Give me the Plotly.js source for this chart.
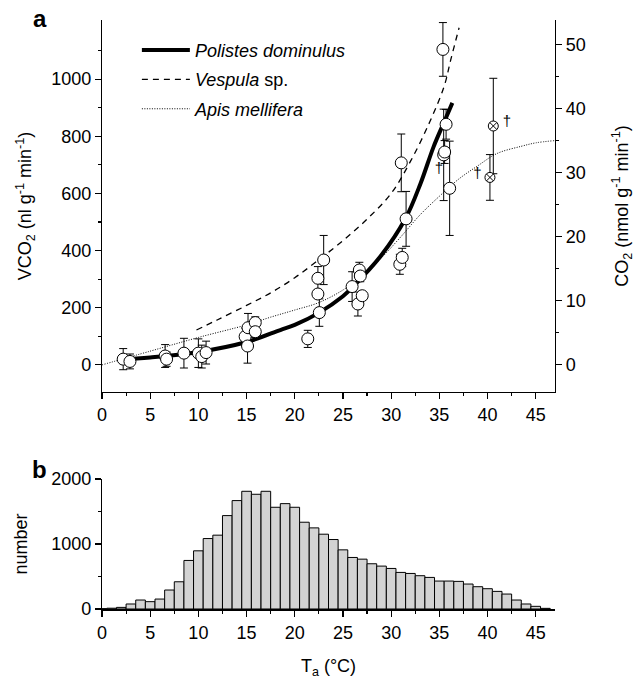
<!DOCTYPE html>
<html><head><meta charset="utf-8">
<script src="https://cdn.plot.ly/plotly-3.0.1.min.js"></script>
<style>body{margin:0;background:#fff}#chart{width:641px;height:685px}</style>
</head><body><div id="chart"></div>
<script>
// ---- Panel a: measured points (open circles) ----
const ptT   = [2.2, 2.9, 6.55, 6.7, 8.5, 10.0, 10.35, 10.8, 14.85, 15.1, 15.15, 15.9, 15.9, 21.35, 22.4, 22.4, 22.55, 23.0, 25.95, 26.55, 26.7, 26.8, 27.0, 30.9, 31.15, 31.05, 31.55, 35.37, 35.7, 35.45, 35.55, 36.07];
const ptV   = [20, 12, 31, 20, 41, 41, 29, 43, 99, 66, 130, 148, 116, 91, 303, 248, 183, 367, 274, 213, 332, 311, 242, 352, 376, 707, 511, 1104, 842, 735, 745, 618];
const ptErr = [37, 26, 40, 25, 52, 50, 40, 40, 30, 60, 50, 20, 20, 30, 41, 15, 48, 86, 52, 42, 27, 20, 15, 35, 32, 101, 96, 94, 52, 160, 40, 165];
// crossed circles (dead animals)
const xT   = [40.6, 40.25];
const xV   = [836, 656];
const xErr = [167, 80];
// dagger marks
const dagT = [42.0, 38.95, 34.95];
const dagV = [850, 668, 683];
// fitted curves
const polT = [1.8, 5, 10, 15, 18.5, 20, 22.5, 25, 26, 28.9, 31.5, 33.05, 34.4, 35.5, 36.35];
const polV = [18, 26, 45, 80, 122, 140, 182, 240, 272, 380, 513, 635, 763, 850, 917];
const vesT = [9.8, 12, 15, 17.5, 20, 22.5, 25, 27.5, 30, 32, 34, 35.5, 36.2, 37.05];
const vesV = [122, 158, 208, 252, 305, 368, 435, 510, 600, 712, 850, 975, 1070, 1180];
const apiT = [0, 5, 10, 15, 17.5, 20, 22.5, 25, 27, 29, 31, 33, 35, 37, 39, 41, 43.5, 45, 47];
const apiV = [0, 48, 96, 140, 167, 192, 218, 262, 312, 375, 448, 525, 590, 650, 697, 740, 765, 777, 785];
// axis ticks
const vTicks = [0, 200, 400, 600, 800, 1000];
const vMinor = [-100, 100, 300, 500, 700, 900, 1100];
// ---- Panel b: histogram of ambient temperature ----
const binT = [0,1,2,3,4,5,6,7,8,9,10,11,12,13,14,15,16,17,18,19,20,21,22,23,24,25,26,27,28,29,30,31,32,33,34,35,36,37,38,39,40,41,42,43,44,45,46];
const binN = [5,12,25,77,138,113,153,292,419,747,895,1084,1136,1437,1668,1811,1765,1811,1565,1621,1565,1335,1248,1151,1069,910,793,767,696,660,624,563,547,512,486,430,430,425,384,343,312,271,230,138,77,41,10];

const FONT = 'Liberation Sans, Arial, sans-serif';
const traces = [
  {x: polT, y: polV, mode: 'lines', line: {color: '#000', width: 4, shape: 'spline'}, name: '<i>Polistes dominulus</i>', legendgroup: 'p', xaxis: 'x', yaxis: 'y'},
  {x: vesT, y: vesV, mode: 'lines', line: {color: '#000', width: 1.3, dash: '6px,5px', shape: 'spline'}, name: '<i>Vespula</i> sp.', legendgroup: 'v', xaxis: 'x', yaxis: 'y'},
  {x: apiT, y: apiV, mode: 'lines', line: {color: '#000', width: 1, dash: '1px,1.5px', shape: 'spline'}, name: '<i>Apis mellifera</i>', legendgroup: 'a', xaxis: 'x', yaxis: 'y'},
  {x: ptT, y: ptV, mode: 'markers', showlegend: false, xaxis: 'x', yaxis: 'y',
   marker: {symbol: 'circle', size: 12, color: '#fff', line: {color: '#000', width: 1}},
   error_y: {type: 'data', array: ptErr, visible: true, color: '#000', thickness: 1, width: 4}},
  {x: xT, y: xV, mode: 'markers', showlegend: false, xaxis: 'x', yaxis: 'y',
   marker: {symbol: 'circle-x', size: 10, color: '#fff', line: {color: '#000', width: 1}},
   error_y: {type: 'data', array: xErr, visible: true, color: '#000', thickness: 1, width: 4}},
  {x: dagT, y: dagV, mode: 'text', text: dagT.map(() => '†'), textfont: {family: FONT, size: 15, color: '#000000'}, showlegend: false, xaxis: 'x', yaxis: 'y'},
  // invisible trace on the right axis so it is drawn
  {x: [0], y: [0], mode: 'markers', marker: {opacity: 0}, showlegend: false, hoverinfo: 'skip', xaxis: 'x', yaxis: 'y2'},
  {x: binT, y: binN, type: 'bar', width: 1, showlegend: false, xaxis: 'x2', yaxis: 'y3',
   marker: {color: '#d3d3d3', line: {color: '#000', width: 1}}}
];

const axBase = {showgrid: false, zeroline: false, showline: true, linecolor: '#000', linewidth: 1.2,
  ticks: 'outside', ticklen: 6, tickwidth: 1.2, tickcolor: '#000',
  tickfont: {family: FONT, size: 18, color: '#000'}};
const vmin = -95, vmax = 1207;
const layout = {
  width: 641, height: 685,
  margin: {l: 102, r: 86, t: 20, b: 76},
  paper_bgcolor: '#fff', plot_bgcolor: 'rgba(0,0,0,0)',
  font: {family: FONT, size: 18, color: '#000'},
  showlegend: true,
  legend: {x: 0.077, y: 0.98, xanchor: 'left', yanchor: 'top', bgcolor: 'rgba(0,0,0,0)', borderwidth: 0,
    font: {family: FONT, size: 18, color: '#000'}, tracegroupgap: 3, itemwidth: 48},
  xaxis: Object.assign({}, axBase, {domain: [0, 1], anchor: 'y', range: [0, 47], dtick: 5, tick0: 0,
    minor: {dtick: 2.5, ticks: 'outside', ticklen: 3, tickcolor: '#000'}}),
  yaxis: Object.assign({}, axBase, {domain: [0.3684, 1], anchor: 'x', range: [vmin, vmax], tickmode: 'array', tickvals: vTicks,
    minor: {tickmode: 'array', tickvals: vMinor, ticks: 'outside', ticklen: 3, tickcolor: '#000'},
    title: {text: 'VCO<sub>2</sub> (nl g<sup>-1</sup> min<sup>-1</sup>)', font: {family: FONT, size: 18}, standoff: 14}}),
  yaxis2: Object.assign({}, axBase, {overlaying: 'y', side: 'right', anchor: 'x', range: [vmin / 22.4, vmax / 22.4], dtick: 10, tick0: 0,
    minor: {dtick: 5, ticks: 'outside', ticklen: 3, tickcolor: '#000'},
    title: {text: 'CO<sub>2</sub> (nmol g<sup>-1</sup> min<sup>-1</sup>)', font: {family: FONT, size: 18}, standoff: 30}}),
  xaxis2: Object.assign({}, axBase, {domain: [0, 1], anchor: 'y3', range: [0, 47], dtick: 5, tick0: 0, linewidth: 2,
    minor: {dtick: 2.5, ticks: 'outside', ticklen: 3, tickcolor: '#000'},
    title: {text: 'T<sub>a</sub> (°C)', font: {family: FONT, size: 18}, standoff: 18}}),
  yaxis3: Object.assign({}, axBase, {domain: [0, 0.2207], anchor: 'x2', range: [0, 2000], dtick: 1000, tick0: 0,
    minor: {dtick: 500, ticks: 'outside', ticklen: 3, tickcolor: '#000'},
    title: {text: 'number', font: {family: FONT, size: 18}, standoff: 18}}),
  bargap: 0,
  annotations: [
    {text: '<b>a</b>', xref: 'paper', yref: 'paper', x: -0.137, y: 1.003, xanchor: 'center', yanchor: 'middle', showarrow: false, font: {family: FONT, size: 24, color: '#000'}},
    {text: '<b>b</b>', xref: 'paper', yref: 'paper', x: -0.137, y: 0.236, xanchor: 'center', yanchor: 'middle', showarrow: false, font: {family: FONT, size: 24, color: '#000'}}
  ]
};
Plotly.newPlot('chart', traces, layout, {staticPlot: true, displayModeBar: false});
</script></body></html>
